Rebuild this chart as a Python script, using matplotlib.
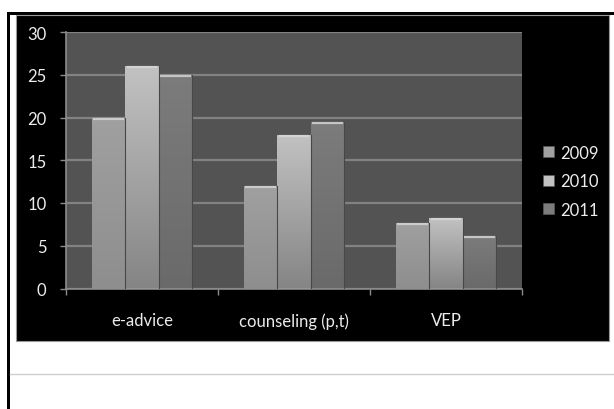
import matplotlib.pyplot as plt
import numpy as np
from matplotlib.patches import Rectangle
from matplotlib.lines import Line2D

categories = ['e-advice', 'counseling (p,t)', 'VEP']
years = ['2009', '2010', '2011']
v2009 = [20, 12, 7.7]
v2010 = [26, 18, 8.2]
v2011 = [25, 19.5, 6.1]
series = [v2009, v2010, v2011]

# top / bottom shade of each series gradient
shades = [('#a0a0a0', '#8e8e8e'), ('#c2c2c2', '#858585'), ('#7c7c7c', '#6a6a6a')]

plt.rcParams['font.family'] = ['Lato', 'DejaVu Sans']

W, H = 614, 410
fig = plt.figure(figsize=(W / 100, H / 100), dpi=100)
fig.patch.set_facecolor('white')


def px(x0, y0, x1, y1):
    # pixel box (top-left origin) -> figure fraction rect
    return [x0 / W, 1 - y1 / H, (x1 - x0) / W, (y1 - y0) / H]


# page frame and black chart background, kept under the axes
fig.add_artist(Rectangle((7 / W, 0), 3 / W, 1 - 13 / H, transform=fig.transFigure,
                         color='black', lw=0, zorder=-2))
fig.add_artist(Rectangle((7 / W, 1 - 15.5 / H), 1, 2.5 / H, transform=fig.transFigure,
                         color='black', lw=0, zorder=-2))
bx = px(16, 16, 609, 342)
fig.add_artist(Rectangle((bx[0], bx[1]), bx[2], bx[3], transform=fig.transFigure,
                         facecolor='black', edgecolor='#9a9a9a', lw=0.8, zorder=-2))
fig.add_artist(Line2D([10 / W, 1], [1 - 375 / H] * 2, transform=fig.transFigure,
                      color='#cfcfcf', lw=1, zorder=-2))

ax = fig.add_axes(px(66, 33, 522, 289.5))
ax.set_facecolor('#535353')
ax.set_xlim(-0.5, 2.5)
ax.set_ylim(0, 30)
ax.set_yticks(range(0, 31, 5))
ax.yaxis.grid(True, color='#828282', lw=1.6)
ax.set_axisbelow(True)

x = np.arange(len(categories))
w = 0.22
grad = np.linspace(1, 0, 256).reshape(-1, 1)
handles = []
for i, (vals, (top, bot)) in enumerate(zip(series, shades)):
    bars = ax.bar(x + (i - 1) * w, vals, w, color=top, edgecolor='none', zorder=2)
    ctop = np.array(plt.matplotlib.colors.to_rgb(top))
    cbot = np.array(plt.matplotlib.colors.to_rgb(bot))
    img = cbot + (ctop - cbot) * grad[..., None]
    for b, v in zip(bars, vals):
        x0 = b.get_x()
        im = ax.imshow(img, extent=[x0, x0 + w, 0, v], aspect='auto', zorder=2.5,
                       interpolation='bilinear')
        im.set_clip_path(b)
        # light rim along the top edge
        ax.plot([x0 + 0.01, x0 + w - 0.01], [v - 0.12, v - 0.12], color='#d8d8d8',
                lw=1.6, alpha=0.8, zorder=3, solid_capstyle='butt')
        ax.plot([x0 + w, x0 + w], [0, v], color='#474747', lw=0.8, zorder=3)
    handles.append(Rectangle((0, 0), 1, 1, facecolor=top, edgecolor='#5a5a5a', lw=0.5))

for s in ['top', 'right']:
    ax.spines[s].set_visible(False)
for s in ['left', 'bottom']:
    ax.spines[s].set_color('#8c8c8c')
    ax.spines[s].set_linewidth(1.2)

ax.set_xticks([-0.5, 0.5, 1.5, 2.5])
ax.set_xticklabels([])
ax.set_xticks(x, minor=True)
ax.set_xticklabels(categories, minor=True)
ax.tick_params(axis='x', which='major', length=4, color='#8c8c8c', width=1)
ax.tick_params(axis='x', which='minor', length=0, pad=17, labelsize=12,
               labelcolor='#ececec')
ax.tick_params(axis='y', length=4, color='#8c8c8c', width=1, pad=10, labelsize=12,
               labelcolor='#ececec')

leg = ax.legend(handles, years, loc='upper left', bbox_to_anchor=(536 / W, 1 - 139 / H),
                bbox_transform=fig.transFigure, frameon=False, fontsize=12,
                labelcolor='#ececec', handlelength=0.65, handleheight=0.65,
                handletextpad=0.4, labelspacing=0.75, borderaxespad=0)

fig.savefig('out.png', dpi=100, facecolor='white')
